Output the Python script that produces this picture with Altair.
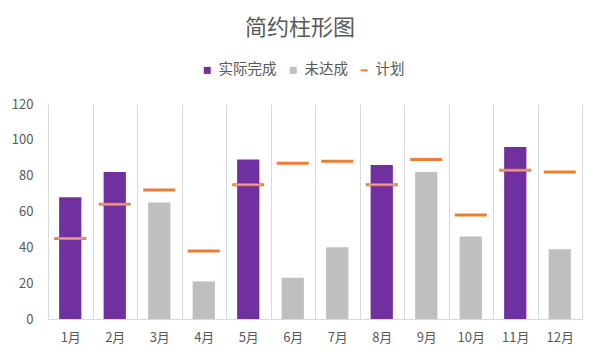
import altair as alt
import pandas as pd

months = ["1月", "2月", "3月", "4月", "5月", "6月", "7月", "8月", "9月", "10月", "11月", "12月"]
actual = [68, 82, 65, 21, 89, 23, 40, 86, 82, 46, 96, 39]
plan = [45, 64, 72, 38, 75, 87, 88, 75, 89, 58, 83, 82]
legend_names = ["实际完成", "未达成", "计划"]
legend_colors = ["#7030A0", "#BFBFBF", "#ED7D31"]
y_ticks = [0, 20, 40, 60, 80, 100, 120]

FONT = "Noto Sans CJK SC"
TXT = "#595959"
GRID = "#D9D9D9"

df = pd.DataFrame({"month": months, "actual": actual, "plan": plan})
df["status"] = [legend_names[0] if a >= p else legend_names[1] for a, p in zip(actual, plan)]

x = alt.X(
    "month:N", sort=months, title=None,
    scale=alt.Scale(paddingInner=0, paddingOuter=0),
    axis=alt.Axis(tickBand="extent", grid=True, gridColor=GRID, gridWidth=1,
                  ticks=False, domainColor=GRID, labelAngle=0, labelFont=FONT,
                  labelFontSize=13, labelColor=TXT, labelPadding=12),
)
yscale = alt.Scale(domain=[0, 120], nice=False)
yaxis = alt.Axis(values=y_ticks, grid=False, domain=False, ticks=False,
                 labelPadding=15, labelFont=FONT, labelFontSize=13, labelColor=TXT)

color_scale = alt.Scale(domain=legend_names, range=legend_colors)
shape_scale = alt.Scale(domain=legend_names,
                        range=["square", "square", "M-1,-0.28H1V0.28H-1Z"])

leg = alt.Legend(
    orient="none", legendX=152, legendY=-41, direction="horizontal", columns=3,
    title=None, labelFont=FONT, labelFontSize=14.5, labelColor=TXT,
    symbolSize=49, symbolOpacity=1, symbolStrokeWidth=0, columnPadding=9,
    labelOffset=4,
)

bars = alt.Chart(df).mark_bar(width=alt.RelativeBandSize(0.5)).encode(
    x=x,
    y=alt.Y("actual:Q", title=None, scale=yscale, axis=yaxis),
    color=alt.Color("status:N", scale=color_scale, legend=leg),
)

ticks = alt.Chart(df).mark_tick(color="#ED7D31", thickness=3, size=32, opacity=1).encode(
    x=x, y=alt.Y("plan:Q", title=None, scale=yscale, axis=yaxis)
)

tick_centers = alt.Chart(df).transform_filter(
    alt.datum.status == legend_names[0]
).mark_tick(color="#F0A39C", thickness=1, size=28, opacity=1).encode(
    x=x, y=alt.Y("plan:Q", title=None, scale=yscale, axis=yaxis)
)

legend_layer = alt.Chart(pd.DataFrame({"status": legend_names})).mark_point(
    opacity=0, filled=True
).encode(
    color=alt.Color("status:N", scale=color_scale, legend=leg),
    shape=alt.Shape("status:N", scale=shape_scale, legend=leg),
)

chart = alt.layer(bars, ticks, tick_centers, legend_layer).properties(
    width=534, height=215,
    autosize=alt.AutoSizeParams(type="none"),
    padding={"left": 40, "top": 96, "right": 8, "bottom": 28},
    background="white",
    title=alt.TitleParams("简约柱形图", font=FONT, fontSize=22, fontWeight="normal",
                          color=TXT, anchor="middle", frame="group", dx=-15, offset=23),
).configure_view(stroke=None)

chart.save("out.html", embed_options={"renderer": "svg", "actions": False})
